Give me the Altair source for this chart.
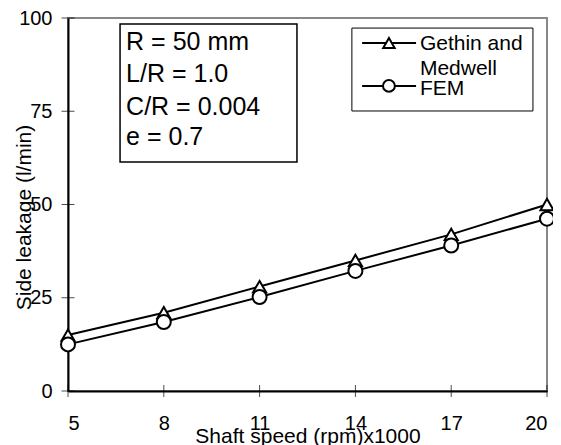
import altair as alt
import pandas as pd

# ---- data ----
speed = [5, 8, 11, 14, 17, 20]
gethin = [15.0, 21.0, 28.0, 35.0, 42.0, 50.0]
fem = [12.5, 18.5, 25.2, 32.2, 39.0, 46.2]
series_names = ["Gethin and Medwell", "FEM"]
x_ticks = [5, 8, 11, 14, 17, 20]
y_ticks = [0, 25, 50, 75, 100]
note_lines = ["R = 50 mm", "L/R = 1.0", "C/R = 0.004", "e = 0.7"]
note_y = [91.4, 82.8, 74.0, 65.95]
legend_label_lines = ["Gethin and", "Medwell", "FEM"]
legend_label_y = [91.4, 84.7, 79.4]
legend_sample_y = [93.3, 81.8]

# annotation boxes in data units
note_box = pd.DataFrame({"x": [6.63], "x2": [12.17], "y": [61.4], "y2": [98.4]})
legend_box = pd.DataFrame({"x": [13.89], "x2": [19.56], "y": [75.07], "y2": [97.3]})

lines_df = pd.DataFrame({
    "x": speed + speed,
    "y": gethin + fem,
    "series": [series_names[0]] * len(speed) + [series_names[1]] * len(speed),
})
g_df = pd.DataFrame({"x": speed, "y": gethin})
f_df = pd.DataFrame({"x": speed, "y": fem})
note_df = pd.DataFrame({"x": [6.82] * len(note_lines), "y": note_y, "t": note_lines})
leg_lines_df = pd.DataFrame({"x": [14.21, 14.21], "x2": [15.90, 15.90], "y": legend_sample_y})
leg_tri_df = pd.DataFrame({"x": [15.05], "y": [legend_sample_y[0]]})
leg_cir_df = pd.DataFrame({"x": [15.05], "y": [legend_sample_y[1]]})
leg_text_df = pd.DataFrame({"x": [16.02] * 3, "y": legend_label_y, "t": legend_label_lines})
xtick_df = pd.DataFrame({"x": x_ticks, "y": [0] * len(x_ticks)})
ytick_df = pd.DataFrame({"x": [5] * len(y_ticks), "y": y_ticks})

xscale = alt.Scale(domain=[5, 20], nice=False, zero=False)
yscale = alt.Scale(domain=[0, 100], nice=False)
xaxis = alt.Axis(values=x_ticks, title="Shaft speed (rpm)x1000", ticks=False, grid=False,
                 labelPadding=22, labelFontSize=20, titleFontSize=21, titleFontWeight="normal",
                 titleY=51, titleBaseline="alphabetic", domainColor="black", domainWidth=2,
                 labelColor="black", titleColor="black")
yaxis = alt.Axis(values=y_ticks, title="Side leakage (l/min)", ticks=False, grid=False,
                 labelPadding=16, labelFontSize=20, titleFontSize=21, titleFontWeight="normal",
                 titleX=-38, titleY=199, titleBaseline="alphabetic", titleAngle=270,
                 domainColor="black", domainWidth=2, labelColor="black", titleColor="black")

def X(f="x"):
    return alt.X(f + ":Q", scale=xscale, axis=xaxis)

def Y(f="y"):
    return alt.Y(f + ":Q", scale=yscale, axis=yaxis)

lines = alt.Chart(lines_df).mark_line(color="black", strokeWidth=2).encode(
    x=X(), y=Y(), detail="series:N")
pts_g = alt.Chart(g_df).mark_point(shape="triangle-up", filled=True, fill="white", stroke="black",
                                   strokeWidth=2, size=170, opacity=1).encode(x=X(), y=Y())
pts_f = alt.Chart(f_df).mark_point(shape="circle", filled=True, fill="white", stroke="black",
                                   strokeWidth=2, size=196, opacity=1).encode(x=X(), y=Y())

xticks = alt.Chart(xtick_df).mark_tick(orient="vertical", color="black", size=12, thickness=1).encode(
    x=X(), y=Y())
yticks = alt.Chart(ytick_df).mark_tick(orient="horizontal", color="black", size=13, thickness=1).encode(
    x=X(), y=Y())

nbox = alt.Chart(note_box).mark_rect(fill="white", stroke="black", strokeWidth=1.5).encode(
    x=X(), x2="x2:Q", y=Y(), y2="y2:Q")
ntext = alt.Chart(note_df).mark_text(align="left", baseline="alphabetic", fontSize=25, color="black").encode(
    x=X(), y=Y(), text="t:N")

lbox = alt.Chart(legend_box).mark_rect(fill="white", stroke="black", strokeWidth=1).encode(
    x=X(), x2="x2:Q", y=Y(), y2="y2:Q")
lrules = alt.Chart(leg_lines_df).mark_rule(color="black", strokeWidth=2).encode(
    x=X(), x2="x2:Q", y=Y())
ltri = alt.Chart(leg_tri_df).mark_point(shape="triangle-up", filled=True, fill="white", stroke="black",
                                        strokeWidth=2, size=130, opacity=1).encode(x=X(), y=Y())
lcir = alt.Chart(leg_cir_df).mark_point(shape="circle", filled=True, fill="white", stroke="black",
                                        strokeWidth=2, size=140, opacity=1).encode(x=X(), y=Y())
ltext = alt.Chart(leg_text_df).mark_text(align="left", baseline="alphabetic", fontSize=21, color="black").encode(
    x=X(), y=Y(), text="t:N")

chart = alt.layer(
    lines, pts_g, pts_f, xticks, yticks, nbox, ntext, lbox, lrules, ltri, lcir, ltext
).properties(
    width=479, height=373,
    padding={"left": 60, "top": 10, "right": 6, "bottom": 54},
    autosize=alt.AutoSizeParams(type="none"),
).configure(font="Liberation Sans").configure_view(stroke="#888888", strokeWidth=2)

chart.save("out.html", embed_options={"renderer": "svg", "actions": False})
